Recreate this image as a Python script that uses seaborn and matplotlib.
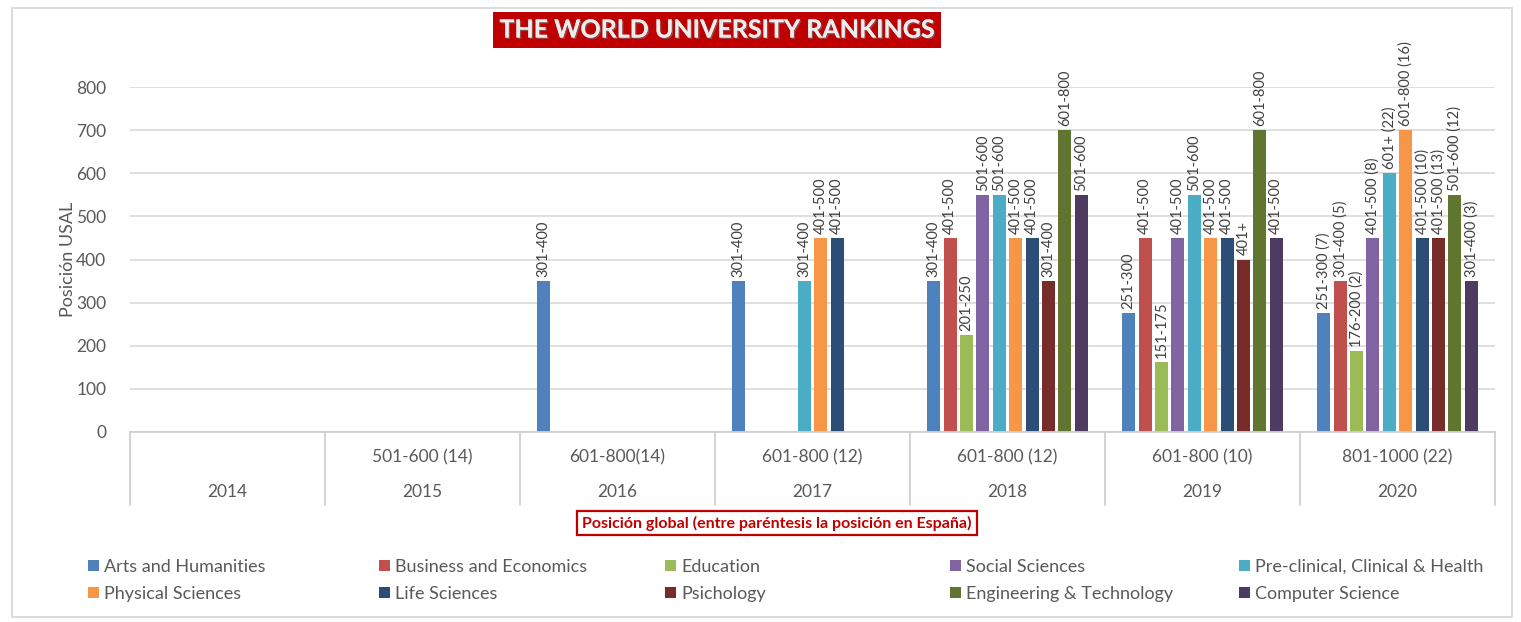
import numpy as np
import pandas as pd
import matplotlib
matplotlib.use("Agg")
import matplotlib.pyplot as plt
import matplotlib.transforms as mtransforms
from matplotlib.patches import Rectangle
import matplotlib.patheffects as pe
import seaborn as sns

# ---------------- data ----------------
years = ["2014", "2015", "2016", "2017", "2018", "2019", "2020"]
global_rank = ["", "501-600 (14)", "601-800(14)", "601-800 (12)", "601-800 (12)",
               "601-800 (10)", "801-1000 (22)"]
subjects = ["Arts and Humanities", "Business and Economics", "Education",
            "Social Sciences", "Pre-clinical, Clinical & Health", "Physical Sciences",
            "Life Sciences", "Psichology", "Engineering & Technology", "Computer Science"]
colors = ["#4F81BD", "#C0504D", "#9BBB59", "#8064A2", "#4BACC6",
          "#F79646", "#2C4D75", "#772C2A", "#5F7530", "#4D3B62"]

nan = np.nan
arts_vals = [nan, nan, 350, 350, 350, 275, 275]
arts_lbls = ["", "", "301-400", "301-400", "301-400", "251-300", "251-300 (7)"]
business_vals = [nan, nan, nan, nan, 450, 450, 350]
business_lbls = ["", "", "", "", "401-500", "401-500", "301-400 (5)"]
education_vals = [nan, nan, nan, nan, 225, 163, 188]
education_lbls = ["", "", "", "", "201-250", "151-175", "176-200 (2)"]
social_vals = [nan, nan, nan, nan, 550, 450, 450]
social_lbls = ["", "", "", "", "501-600", "401-500", "401-500 (8)"]
preclin_vals = [nan, nan, nan, 350, 550, 550, 600]
preclin_lbls = ["", "", "", "301-400", "501-600", "501-600", "601+ (22)"]
physical_vals = [nan, nan, nan, 450, 450, 450, 700]
physical_lbls = ["", "", "", "401-500", "401-500", "401-500", "601-800 (16)"]
life_vals = [nan, nan, nan, 450, 450, 450, 450]
life_lbls = ["", "", "", "401-500", "401-500", "401-500", "401-500 (10)"]
psych_vals = [nan, nan, nan, nan, 350, 400, 450]
psych_lbls = ["", "", "", "", "301-400", "401+", "401-500 (13)"]
eng_vals = [nan, nan, nan, nan, 700, 700, 550]
eng_lbls = ["", "", "", "", "601-800", "601-800", "501-600 (12)"]
comp_vals = [nan, nan, nan, nan, 550, 450, 350]
comp_lbls = ["", "", "", "", "501-600", "401-500", "301-400 (3)"]

all_vals = [arts_vals, business_vals, education_vals, social_vals, preclin_vals,
            physical_vals, life_vals, psych_vals, eng_vals, comp_vals]
all_lbls = [arts_lbls, business_lbls, education_lbls, social_lbls, preclin_lbls,
            physical_lbls, life_lbls, psych_lbls, eng_lbls, comp_lbls]

rows = []
for s, vals in zip(subjects, all_vals):
    for y, v in zip(years, vals):
        rows.append({"year": y, "subject": s, "pos": v})
df = pd.DataFrame(rows)

# ---------------- figure ----------------
sns.set_theme(style="white")
plt.rcParams["font.family"] = ["Lato", "DejaVu Sans"]

W, H = 1521, 622
fig = plt.figure(figsize=(W / 100, H / 100), dpi=100)
fig.patch.set_facecolor("white")

def fx(px):
    return px / W

def fy(py):
    return 1 - py / H

ax = fig.add_axes([fx(130), fy(432), fx(1495) - fx(130), fy(87) - fy(432)])

sns.barplot(data=df, x="year", y="pos", hue="subject", order=years,
            hue_order=subjects, palette=colors, saturation=1, width=0.84, gap=0.2,
            dodge=True, errorbar=None, linewidth=0, ax=ax)

handles, labels = ax.get_legend_handles_labels()
if ax.get_legend() is not None:
    ax.get_legend().remove()

ax.set_ylim(0, 800)
ax.set_xlim(-0.5, 6.5)
ax.set_yticks(range(0, 801, 100))
ax.tick_params(axis="y", length=0, pad=17, labelsize=12.5, labelcolor="#595959")
ax.tick_params(axis="x", length=0)
ax.set_xticks(range(len(years)))
ax.set_xticklabels([""] * len(years))
ax.set_xlabel("")
ax.set_ylabel("Posición USAL", fontsize=13, color="#595959", labelpad=0)
ax.grid(axis="y", color="#D9D9D9", linewidth=1.2)
ax.set_axisbelow(True)
for side in ["left", "right", "top"]:
    ax.spines[side].set_visible(False)
ax.spines["bottom"].set_color("#D0D0D0")
ax.spines["bottom"].set_linewidth(1.3)

# bar labels
for i, cont in enumerate(ax.containers):
    for p in cont.patches:
        h = p.get_height()
        if not np.isfinite(h) or h == 0:
            continue
        cx = p.get_x() + p.get_width() / 2
        cat = int(round(cx))
        lbl = all_lbls[i][cat]
        ax.annotate(lbl, (cx, h), xytext=(0, 3), textcoords="offset points",
                    rotation=90, ha="center", va="bottom", fontsize=10.5,
                    color="#404040", annotation_clip=False)

# category table below axis
trans = mtransforms.blended_transform_factory(ax.transData, ax.transAxes)
axh = 432 - 87
for b in np.arange(-0.5, 7.0, 1.0):
    ax.plot([b, b], [0, -(505 - 432) / axh], transform=trans, color="#D0D0D0",
            lw=1.3, clip_on=False)
for i, (y, g) in enumerate(zip(years, global_rank)):
    ax.text(i, -(457 - 432) / axh, g, transform=trans, ha="center", va="center",
            fontsize=12.5, color="#595959")
    ax.text(i, -(492 - 432) / axh, y, transform=trans, ha="center", va="center",
            fontsize=12.5, color="#595959")

# axis title box
fig.text(fx(777), fy(523), "Posición global (entre paréntesis la posición en España)",
         ha="center", va="center", fontsize=11.5, fontweight="bold", color="#C00000",
         bbox=dict(boxstyle="square,pad=0.3", facecolor="white", edgecolor="#C00000",
                   linewidth=1.6))

# title
t = fig.text(fx(717), fy(30), "THE WORLD UNIVERSITY RANKINGS", ha="center", va="center",
             fontsize=18, fontweight="bold", color="#EDEDED",
             bbox=dict(boxstyle="square,pad=0.25", facecolor="#C00000", edgecolor="none"))
t.set_path_effects([pe.withSimplePatchShadow(offset=(1, -1), shadow_rgbFace="#7F7F7F", alpha=0.6),
                    pe.Normal()])

# legend: 5 columns x 2 rows
col_x = [88, 379, 665, 950, 1239]
for c in range(5):
    idx = [c, c + 5]
    fig.legend([handles[k] for k in idx], [labels[k] for k in idx],
               loc="upper left", bbox_to_anchor=(fx(col_x[c]), fy(559)),
               frameon=False, ncol=1, fontsize=13, handlelength=0.6,
               handleheight=0.6, handletextpad=0.3, labelspacing=0.6,
               borderpad=0, borderaxespad=0, labelcolor="#595959")

# outer frame
fig.add_artist(Rectangle((fx(12), fy(617)), fx(1512) - fx(12), fy(8) - fy(617),
                         transform=fig.transFigure, fill=False, edgecolor="#D9D9D9",
                         linewidth=1.3))

fig.savefig("out.png", dpi=100, facecolor="white")
